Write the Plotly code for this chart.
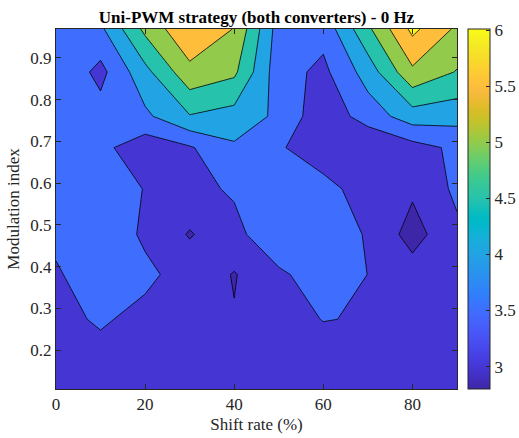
import plotly.graph_objects as go
import numpy as np

# ---------------- data ----------------
shift_rate = [0, 10, 20, 30, 40, 50, 60, 70, 80, 90]
modulation_index = [0.107, 0.19, 0.274, 0.381, 0.477, 0.586, 0.685, 0.760, 0.866, 0.969]

# one row per modulation index (bottom to top), one value per shift rate
row_m0107 = [3.20, 3.25, 3.25, 3.20, 3.10, 3.15, 3.20, 3.15, 3.10, 3.20]
row_m0190 = [3.30, 3.386, 3.30, 3.20, 3.15, 3.20, 3.30, 3.25, 3.15, 3.25]
row_m0274 = [3.38, 3.551, 3.38, 3.25, 3.027, 3.30, 3.515, 3.468, 3.20, 3.30]
row_m0381 = [3.44, 3.80, 3.593, 3.32, 2.97, 3.40, 3.785, 3.495, 3.23, 3.30]
row_m0477 = [3.616, 3.80, 3.43, 2.96, 3.33, 3.94, 3.77, 3.46, 2.80, 3.40]
row_m0586 = [3.70, 3.80, 3.48, 3.337, 3.57, 3.75, 3.67, 3.265, 3.08, 3.60]
row_m0685 = [3.75, 3.63, 3.20, 3.447, 3.925, 3.557, 3.20, 3.03, 3.31, 3.603]
row_m0760 = [3.80, 3.70, 3.898, 4.47, 4.30, 3.90, 3.155, 3.73, 4.26, 4.187]
row_m0866 = [3.95, 3.35, 4.35, 5.35, 5.10, 3.705, 3.38, 4.22, 5.40, 4.97]
row_m0969 = [3.85, 3.90, 5.12, 5.95, 5.48, 3.77, 3.67, 4.90, 6.12, 5.41]

levels = [3.0, 3.5, 4.0, 4.5, 5.0, 5.5, 6.0]
colorbar_ticks = [3, 3.5, 4, 4.5, 5, 5.5, 6]
x_ticks = [0, 20, 40, 60, 80]
y_ticks = [0.2, 0.3, 0.4, 0.5, 0.6, 0.7, 0.8, 0.9]

Z = np.array([row_m0107, row_m0190, row_m0274, row_m0381, row_m0477,
              row_m0586, row_m0685, row_m0760, row_m0866, row_m0969])

# ---------------- style ----------------
CMIN, CMAX = 2.80, 6.01
PARULA = np.array([
 [0.2422,0.1504,0.6603],[0.2504,0.1650,0.7076],[0.2578,0.1818,0.7511],[0.2647,0.1978,0.7952],
 [0.2706,0.2147,0.8364],[0.2751,0.2342,0.8710],[0.2783,0.2559,0.8991],[0.2803,0.2782,0.9221],
 [0.2813,0.3006,0.9414],[0.2810,0.3228,0.9579],[0.2795,0.3447,0.9717],[0.2760,0.3667,0.9829],
 [0.2699,0.3892,0.9906],[0.2602,0.4123,0.9952],[0.2440,0.4358,0.9988],[0.2206,0.4603,0.9973],
 [0.1963,0.4847,0.9892],[0.1834,0.5074,0.9798],[0.1786,0.5289,0.9682],[0.1764,0.5499,0.9520],
 [0.1687,0.5703,0.9359],[0.1540,0.5902,0.9218],[0.1460,0.6091,0.9079],[0.1380,0.6276,0.8973],
 [0.1248,0.6459,0.8883],[0.1113,0.6635,0.8763],[0.0952,0.6798,0.8598],[0.0689,0.6948,0.8394],
 [0.0297,0.7082,0.8163],[0.0036,0.7203,0.7917],[0.0067,0.7312,0.7660],[0.0433,0.7411,0.7394],
 [0.0964,0.7500,0.7120],[0.1408,0.7584,0.6842],[0.1717,0.7670,0.6554],[0.1938,0.7758,0.6251],
 [0.2161,0.7843,0.5923],[0.2470,0.7918,0.5567],[0.2906,0.7973,0.5188],[0.3406,0.8008,0.4789],
 [0.3909,0.8029,0.4354],[0.4456,0.8024,0.3909],[0.5044,0.7993,0.3480],[0.5616,0.7942,0.3045],
 [0.6174,0.7876,0.2612],[0.6720,0.7793,0.2227],[0.7242,0.7698,0.1910],[0.7738,0.7598,0.1646],
 [0.8203,0.7498,0.1535],[0.8634,0.7406,0.1596],[0.9035,0.7330,0.1774],[0.9393,0.7288,0.2100],
 [0.9728,0.7298,0.2394],[0.9956,0.7434,0.2371],[0.9970,0.7659,0.2199],[0.9952,0.7893,0.2028],
 [0.9892,0.8136,0.1885],[0.9786,0.8386,0.1766],[0.9676,0.8639,0.1643],[0.9610,0.8890,0.1537],
 [0.9597,0.9135,0.1423],[0.9628,0.9373,0.1265],[0.9691,0.9606,0.1064],[0.9769,0.9839,0.0805]])

def rgb(c):
    return "rgb(%d,%d,%d)" % tuple(int(round(v * 255)) for v in c)

def parula_at(f):
    f = min(max(f, 0.0), 1.0)
    pos = f * (len(PARULA) - 1)
    i = int(np.floor(pos)); i2 = min(i + 1, len(PARULA) - 1); w = pos - i
    return rgb(PARULA[i] * (1 - w) + PARULA[i2] * w)

parula_scale = [[k / (len(PARULA) - 1), rgb(c)] for k, c in enumerate(PARULA)]

# discrete band colours (MATLAB contourf: colour of lower level)
band_vals = [CMIN] + levels
nb = len(band_vals)
band_scale = [[k / (nb - 1), parula_at((v - CMIN) / (CMAX - CMIN))] for k, v in enumerate(band_vals)]

FONT = "Liberation Serif"
AX = "#262626"

fig = go.Figure()
fig.add_trace(go.Contour(
    x=shift_rate, y=modulation_index, z=Z,
    autocontour=False,
    contours=dict(start=levels[0], end=levels[-1], size=levels[1] - levels[0], coloring="fill"),
    colorscale=band_scale, showscale=False,
    line=dict(color="black", width=0.8, smoothing=0),
    hoverinfo="skip",
))
# colorbar (continuous parula like MATLAB)
fig.add_trace(go.Scatter(
    x=[shift_rate[0]], y=[modulation_index[0]], mode="markers",
    marker=dict(size=1, opacity=0, color=[CMIN], cmin=CMIN, cmax=CMAX,
                colorscale=parula_scale, showscale=True,
                colorbar=dict(
                    thickness=22, thicknessmode="pixels", len=1, lenmode="fraction",
                    x=1.0275, xanchor="left", xpad=0, y=0.5, yanchor="middle", ypad=0,
                    outlinecolor=AX, outlinewidth=1,
                    tickvals=colorbar_ticks, ticktext=[str(t) for t in colorbar_ticks],
                    ticks="inside", ticklen=4, tickcolor=AX,
                    tickfont=dict(family=FONT, size=17, color=AX),
                )),
    hoverinfo="skip", showlegend=False,
))

axis_common = dict(
    showline=True, linecolor=AX, linewidth=1, mirror="allticks",
    ticks="inside", ticklen=5, tickcolor=AX, tickwidth=1,
    showgrid=False, zeroline=False,
    tickfont=dict(family=FONT, size=17, color=AX),
)
fig.update_layout(
    width=519, height=438,
    margin=dict(l=56, r=62, t=29, b=49, autoexpand=False),
    paper_bgcolor="white", plot_bgcolor="white",
    showlegend=False,
    title=dict(text="Uni-PWM strategy (both converters) - 0 Hz",
               font=dict(family=FONT, size=17, color="black", weight="bold"),
               x=0.5, xref="paper", xanchor="center",
               y=1 - 17 / 438, yref="container", yanchor="middle"),
    xaxis=dict(range=[shift_rate[0], shift_rate[-1]], tickvals=x_ticks,
               title=dict(text="Shift rate (%)", font=dict(family=FONT, size=17, color=AX), standoff=4),
               **axis_common),
    yaxis=dict(range=[modulation_index[0], modulation_index[-1]], tickvals=y_ticks,
               title=dict(text="Modulation index", font=dict(family=FONT, size=17, color=AX), standoff=6),
               **axis_common),
)
fig.write_html("out.html")
